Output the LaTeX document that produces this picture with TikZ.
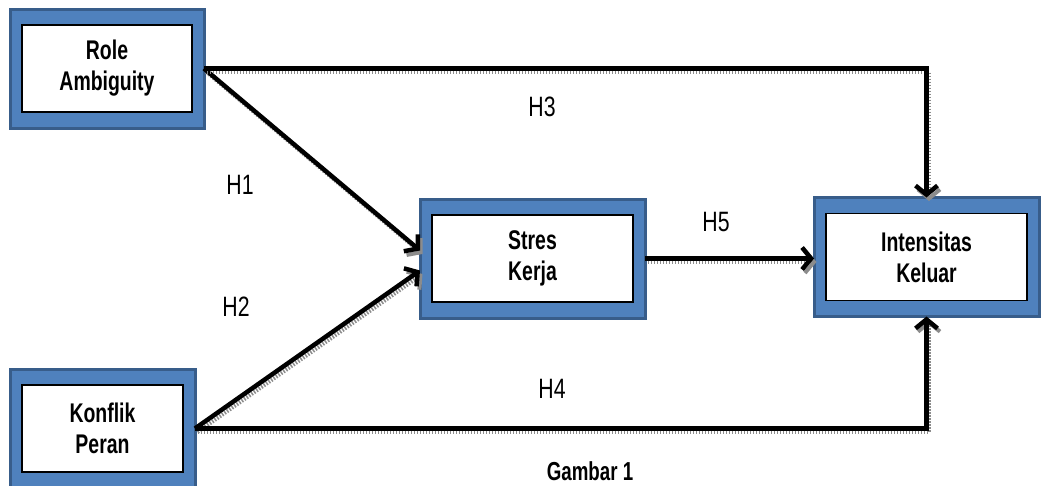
\documentclass[tikz,border=0pt]{standalone}
\usepackage{fontspec}
\setmainfont{Liberation Sans}
\newfontfamily\boxfont[FakeStretch=0.72]{Liberation Sans}
\newfontfamily\labfont[FakeStretch=0.76]{Liberation Sans}
\usetikzlibrary{positioning, arrows.meta, calc, backgrounds}
\definecolor{frameFill}{RGB}{ 79,129,189}
\definecolor{frameEdge}{RGB}{ 56, 93,138}
\definecolor{shadowGray}{RGB}{140,140,140}
\tikzset{
    varbox/.style={
        draw=black, fill=white, line width=1.6pt,
        minimum width=#1, minimum height=87pt, inner sep=2pt,
        outer xsep=12pt, outer ysep=16pt, align=center,
        font=\boxfont\bfseries\fontsize{27}{31}\selectfont
    },
    frame/.style={fill=frameFill, draw=frameEdge, line width=3pt},
    hyp/.style={font=\labfont\fontsize{28}{30}\selectfont},
    caption/.style={font=\boxfont\bfseries\fontsize{26}{28}\selectfont},
    link/.style={
        -{Straight Barb[length=9pt, width=22pt]}, line width=4.5pt,
        preaction={draw=shadowGray, line width=4pt, dash pattern=on 1.5pt off 1.5pt,
                   transform canvas={shift={(2.5pt,-3.5pt)}}}
    }
}

\begin{document}
\begin{tikzpicture}[x=1pt, y=-1pt]
      \useasboundingbox (0,0) rectangle (1041,485);
      \node[varbox=170pt] (RA) at (107,68.5)   {Role\\Ambiguity};
      \node[varbox=161pt] (KP) at (102.5,428.5) {Konflik\\Peran};
      \node[varbox=201pt] (SK) at (532.5,258.5) {Stres\\Kerja};
      \node[varbox=201pt] (IK) at (926.5,257)   {Intensitas\\Keluar};
      \begin{scope}[on background layer]
        \foreach \b in {RA,KP,SK,IK}
          \draw[frame] (\b.north west) rectangle (\b.south east);
      \end{scope}
      \node[hyp] (H1) at (240,185) {H1};
      \node[hyp] (H2) at (236,307) {H2};
      \node[hyp] (H3) at (542,107) {H3};
      \node[hyp] (H4) at (552,389) {H4};
      \node[hyp] (H5) at (716,222) {H5};
      \node[caption, anchor=north] (cap) at (590,458) {Gambar 1};
      \draw[link] (RA.east) -- ([yshift=8pt]SK.west);
      \draw[link] (KP.east) -- ([yshift=-12pt]SK.west);
      \draw[link] (RA.east) -| (IK.north);
      \draw[link] (KP.east) -| (IK.south);
      \draw[link] (SK.east) -- (SK.east -| IK.west);
    \end{tikzpicture}
\end{document}
